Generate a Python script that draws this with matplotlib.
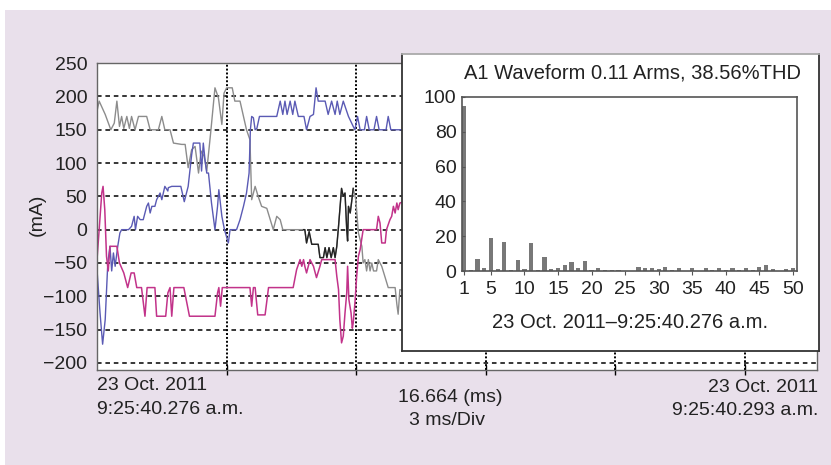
import matplotlib.pyplot as plt
from matplotlib.patches import Rectangle

plt.rcParams['font.family'] = ['Liberation Sans', 'DejaVu Sans']

# Phase currents over one cycle: time in ms, current in mA
grey_t = [0.00, 0.05, 0.19, 0.32, 0.40, 0.46, 0.52, 0.57, 0.62, 0.69, 0.75, 0.80,
          0.88, 0.96, 1.15, 1.23, 1.42, 1.50, 1.57, 1.69, 1.77, 1.96, 2.04, 2.11,
          2.19, 2.27, 2.35, 2.41, 2.48, 2.54, 2.63, 2.73, 2.81, 2.89, 2.94, 3.00,
          3.13, 3.19, 3.31, 3.46, 3.54, 3.58, 3.66, 3.73, 3.81, 3.93, 4.08, 4.16,
          4.24, 4.30, 4.78, 4.81, 4.85, 4.91, 4.97, 5.12, 5.16, 5.24, 5.28, 5.32,
          5.37, 5.42, 5.47, 5.51, 5.55, 5.59, 5.66, 5.70, 5.74, 5.78, 5.80, 5.82,
          5.86, 5.89, 5.93, 5.99, 6.05, 6.13, 6.16, 6.20, 6.24, 6.28, 6.32, 6.36,
          6.40, 6.47, 6.51, 6.59, 6.67, 6.74, 6.90, 6.94, 6.97, 7.01, 7.24]
grey_ma = [178, 193, 173, 150, 160, 193, 155, 170, 152, 170, 152, 170,
           150, 170, 170, 150, 150, 170, 150, 150, 130, 128, 128, 93,
           120, 125, 85, 118, 110, 88, 145, 213, 198, 158, 205, 213,
           213, 193, 193, 150, 135, 45, 65, 50, 35, 32, 0, 20,
           15, 0, 0, 0, -20, -3, -22, -22, -42, -42, -27, -42,
           -27, -42, -27, -42, -25, 5, 62, 50, 55, 0, -17, 35,
           25, 40, 62, 45, -5, -25, -50, -45, -62, -45, -62, -50,
           -62, -62, -45, -55, -72, -87, -87, -112, -127, -90, -95]
# part of the grey trace shown in black
black_from, black_to = 4.78, 5.93

blue_t = [0.00, 0.07, 0.13, 0.19, 0.25, 0.30, 0.34, 0.38, 0.42, 0.48, 0.53, 0.57,
          0.73, 0.80, 0.86, 0.89, 0.94, 1.00, 1.07, 1.15, 1.19, 1.23, 1.27, 1.34,
          1.38, 1.46, 1.50, 1.57, 1.64, 1.65, 1.73, 1.94, 2.02, 2.11, 2.19, 2.23,
          2.38, 2.42, 2.46, 2.50, 2.54, 2.58, 2.65, 2.73, 2.79, 2.82, 2.89, 2.95,
          3.04, 3.08, 3.23, 3.31, 3.39, 3.46, 3.52, 3.55, 3.58, 3.62, 3.66, 3.70,
          3.76, 4.16, 4.24, 4.30, 4.35, 4.40, 4.47, 4.53, 4.58, 4.66, 4.79, 4.85,
          4.93, 5.01, 5.07, 5.12, 5.28, 5.35, 5.43, 5.51, 5.56, 5.62, 5.70, 5.82,
          5.93, 5.97, 6.03, 6.09, 6.19, 6.24, 6.30, 6.41, 6.47, 6.53, 6.69, 6.74,
          6.80, 7.24]
blue_ma = [-60, -125, -172, -135, -50, -25, -62, -35, -55, -25, -5, 0,
           0, 5, 20, 0, 20, 15, 15, 35, 40, 25, 35, 35,
           45, 55, 45, 65, 58, 63, 65, 65, 42, 65, 112, 130,
           130, 88, 130, 105, 85, 85, 40, 0, 35, 60, 20, 0,
           -20, 0, 0, 15, 35, 55, 85, 150, 170, 168, 150, 152,
           170, 170, 193, 173, 193, 173, 193, 173, 193, 170, 170, 150,
           170, 173, 213, 193, 193, 173, 193, 173, 193, 173, 193, 170,
           155, 150, 170, 150, 150, 170, 150, 150, 170, 150, 150, 170,
           150, 150]

magenta_t = [0.00, 0.05, 0.11, 0.14, 0.18, 0.22, 0.26, 0.30, 0.46, 0.52, 0.62, 0.71,
             0.79, 0.86, 0.92, 1.03, 1.11, 1.16, 1.34, 1.38, 1.59, 1.64, 1.69, 1.73,
             1.78, 2.01, 2.14, 2.73, 2.79, 2.82, 2.86, 2.90, 3.54, 3.58, 3.62, 3.66,
             3.72, 3.89, 3.97, 4.54, 4.62, 4.70, 4.74, 4.78, 4.81, 4.85, 4.93, 5.01,
             5.08, 5.16, 5.20, 5.51, 5.55, 5.59, 5.62, 5.66, 5.70, 5.74, 5.78, 5.80,
             5.83, 5.88, 5.91, 5.93, 5.97, 6.01, 6.05, 6.09, 6.16, 6.47, 6.51, 6.55,
             6.59, 6.67, 6.70, 6.78, 6.82, 6.86, 6.90, 6.94, 6.97, 7.01, 7.24]
magenta_ma = [-45, 0, 55, 65, 30, -40, -62, -25, -25, -50, -65, -87,
              -65, -65, -87, -87, -130, -87, -87, -130, -130, -95, -87, -130,
              -87, -87, -130, -130, -95, -87, -115, -87, -87, -115, -87, -87,
              -128, -128, -87, -87, -60, -45, -55, -45, -55, -65, -45, -55,
              -72, -55, -45, -45, -70, -90, -135, -170, -160, -125, -95, -55,
              -105, -125, -148, -140, -110, -70, -40, -30, 0, 0, 20, 10,
              -20, -20, 0, 15, 20, 35, 25, 40, 30, 40, 45]

# Harmonic spectrum of A1 (% of fundamental)
harmonics = list(range(1, 51))
harmonic_pct = [94.8, 0.8, 7.1, 1.9, 18.7, 1.0, 16.8, 0.4, 6.5, 1.0,
                16.1, 0.4, 7.9, 1.1, 1.9, 3.3, 5.2, 1.9, 5.7, 0.4,
                1.9, 0.6, 0.4, 0.4, 0.0, 0.0, 2.5, 1.9, 1.9, 1.1,
                2.5, 0.6, 1.9, 0.0, 1.9, 0.0, 1.9, 0.6, 1.9, 0.4,
                1.9, 0.6, 1.9, 0.6, 2.5, 3.3, 1.1, 0.0, 1.1, 1.9]
harmonic_ticks = [1, 5, 10, 15, 20, 25, 30, 35, 40, 45, 50]

W, H = 831, 465


def box(left, top, right, bottom):
    return [left / W, 1 - bottom / H, (right - left) / W, (bottom - top) / H]


fig = plt.figure(figsize=(W / 100, H / 100), dpi=100, facecolor='white')
fig.patches.append(Rectangle((5 / W, 0), 1, 1 - 10 / H, transform=fig.transFigure,
                             facecolor='#e9e0eb', edgecolor='none', zorder=-10))

# waveform panel
ax = fig.add_axes(box(97, 62.5, 817, 369.5))
ax.set_facecolor('white')
ax.plot(grey_t, grey_ma, color='#8c8c8c', lw=1.0)
blk = [i for i, t in enumerate(grey_t) if black_from <= t <= black_to]
ax.plot(grey_t[blk[0]:blk[-1] + 1], grey_ma[blk[0]:blk[-1] + 1], color='#222222', lw=1.0)
ax.plot(blue_t, blue_ma, color='#5a5ab4', lw=1.0)
ax.plot(magenta_t, magenta_ma, color='#c2338a', lw=1.1)

ax.set_xlim(0, 16.664)
ax.set_ylim(-210, 251)
ax.set_yticks(range(-200, 251, 50))
ax.set_xticks([3, 6, 9, 12, 15])
ax.set_xticklabels([])
ax.tick_params(axis='y', length=0, pad=7, labelsize=14, labelcolor='#222222')
ax.tick_params(axis='x', direction='inout', length=7, width=1, color='black')
ax.grid(axis='y', color='black', lw=1.1, linestyle=(0, (3, 2.5)))
ax.grid(axis='x', color='black', lw=1.4, linestyle=(0, (1, 1)))
ax.set_axisbelow(True)
for sp in ax.spines.values():
    sp.set_color('#666666')
    sp.set_linewidth(1.0)

fig.text(37 / W, 1 - 215 / H, '(mA)', rotation=90, ha='center', va='center',
         fontsize=14, color='#222222')

# time annotations under the panel
fs = 14
fig.text(97 / W, 1 - 386 / H, '23 Oct. 2011', ha='left', va='center', fontsize=fs, color='#222222')
fig.text(97 / W, 1 - 409 / H, '9:25:40.276 a.m.', ha='left', va='center', fontsize=fs, color='#222222')
fig.text(450 / W, 1 - 397 / H, '16.664 (ms)', ha='center', va='center', fontsize=fs, color='#222222')
fig.text(447 / W, 1 - 420 / H, '3 ms/Div', ha='center', va='center', fontsize=fs, color='#222222')
fig.text(818 / W, 1 - 387 / H, '23 Oct. 2011', ha='right', va='center', fontsize=fs, color='#222222')
fig.text(818 / W, 1 - 410 / H, '9:25:40.293 a.m.', ha='right', va='center', fontsize=fs, color='#222222')

# harmonic inset: white frame with the bar chart inside
frame = fig.add_axes(box(402, 54, 819, 351))
frame.set_facecolor('white')
frame.set_xticks([])
frame.set_yticks([])
for name, sp in frame.spines.items():
    sp.set_color('#aaaaaa' if name == 'top' else '#333333')
    sp.set_linewidth(1.3)

hx = fig.add_axes(box(462, 97, 797, 271))
hx.bar(harmonics, harmonic_pct, width=0.62, color='#787878')
hx.set_xlim(0.7, 50.6)
hx.set_ylim(0, 100)
hx.set_xticks(harmonic_ticks)
hx.set_yticks(range(0, 101, 20))
hx.tick_params(axis='y', direction='in', length=2.5, pad=4, labelsize=14,
               labelcolor='#222222', color='#555555')
hx.tick_params(axis='x', direction='out', length=3, pad=4, labelsize=14,
               labelcolor='#222222', color='#555555')
for sp in hx.spines.values():
    sp.set_color('#555555')
    sp.set_linewidth(1.2)

fig.text(633 / W, 1 - 73 / H, 'A1 Waveform 0.11 Arms, 38.56%THD', ha='center', va='center',
         fontsize=14.5, color='#222222')
fig.text(630 / W, 1 - 322 / H, '23 Oct. 2011\u20139:25:40.276 a.m.', ha='center', va='center',
         fontsize=14.5, color='#222222')

fig.savefig('out.png', dpi=100)
